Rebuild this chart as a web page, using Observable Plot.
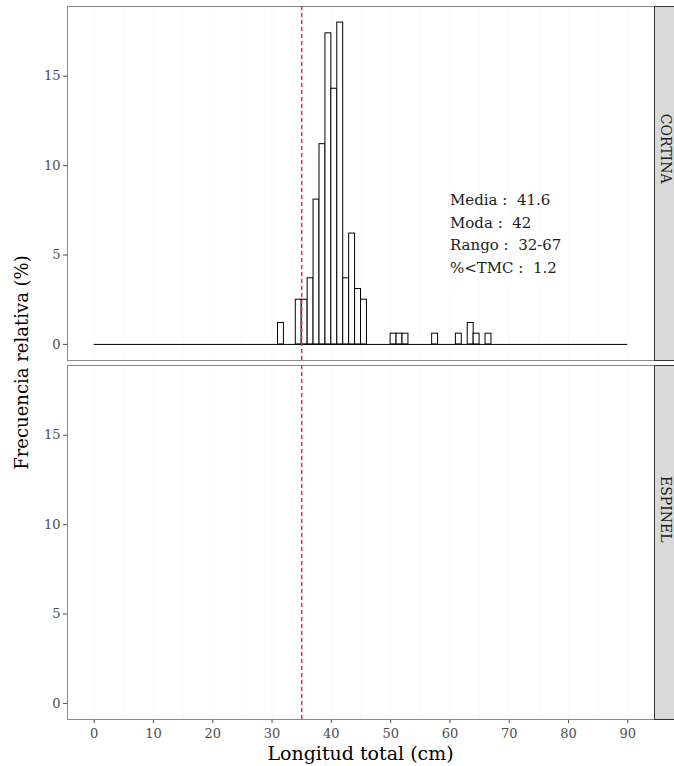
<!DOCTYPE html>
<html>
<head>
<meta charset="utf-8">
<script src="https://cdn.jsdelivr.net/npm/d3@7"></script>
<script src="https://cdn.jsdelivr.net/npm/@observablehq/plot@0.6"></script>
<style>
  body { margin: 0; background: #fff; }
  svg { display: block; }
</style>
</head>
<body>
<div id="chart"></div>
<script>
// ---- data ----
const gears = ["CORTINA", "ESPINEL"];
const lengthBins = [31, 34, 35, 36, 37, 38, 39, 40, 41, 42, 43, 44, 45, 50, 51, 52, 57, 61, 63, 64, 66];
const freqCortina = [1.2, 2.5, 2.5, 3.7, 8.1, 11.2, 17.4, 14.3, 18.0, 3.7, 6.2, 3.1, 2.5, 0.6, 0.6, 0.6, 0.6, 0.6, 1.2, 0.6, 0.6];
const binWidth = 1;
const histRange = [0, 90];
const tmc = 35;
const statLabels = ["Media :  41.6", "Moda :  42", "Rango :  32-67", "%<TMC :  1.2"];
const xTicks = [0, 10, 20, 30, 40, 50, 60, 70, 80, 90];
const yTicks = [0, 5, 10, 15];
const xTitle = "Longitud total (cm)";
const yTitle = "Frecuencia relativa (%)";

// ---- build ----
const rows = lengthBins.map((b, i) => ({gear: "CORTINA", x1: b, x2: b + binWidth, freq: freqCortina[i]}));
const W = 674, H = 766, mL = 67, mR = 20, mT = 6, mB = 47;
const font = "DejaVu Serif";

const plot = Plot.plot({
  width: W, height: H,
  marginLeft: mL, marginRight: mR, marginTop: mT, marginBottom: mB,
  style: {fontFamily: font, fontSize: "13px", color: "#4d4d4d", background: "#fff"},
  x: {domain: [-4.5, 94.5], ticks: xTicks, tickSize: 4, tickPadding: 5, label: null},
  y: {domain: [-0.9, 18.9], ticks: yTicks, tickSize: 4, tickPadding: 3, label: null},
  fy: {domain: gears, paddingInner: 0.014, paddingOuter: 0, axis: null, label: null},
  marks: [
    Plot.gridX(d3.range(0, 95, 5), {stroke: "#000", strokeOpacity: 0.03}),
    Plot.frame({stroke: "#8a8a8a"}),
    Plot.frame({fill: "#d9d9d9", stroke: "#333", insetLeft: W - mL - mR, insetRight: -30}),
    Plot.text(gears, {fy: d => d, text: d => d, frameAnchor: "right", dx: 11, rotate: 90, fill: "#1a1a1a", fontSize: 14}),
    Plot.ruleY([{gear: "CORTINA"}], {fy: "gear", y: () => 0, x1: () => histRange[0], x2: () => histRange[1], stroke: "black", strokeWidth: 1}),
    Plot.rectY(rows, {x1: "x1", x2: "x2", y: "freq", fy: "gear", fill: "white", stroke: "black", strokeWidth: 1}),
    Plot.ruleX([tmc], {stroke: "#f5234e", strokeDasharray: "4,3", strokeWidth: 1.5}),
    Plot.text([{gear: "CORTINA", label: statLabels.join("\n")}], {
      fy: "gear", x: () => 60, y: () => 6.3, text: "label",
      textAnchor: "start", lineAnchor: "middle", lineHeight: 1.5,
      fill: "#222", fontSize: 15
    })
  ]
});

const svg = d3.select(plot);
svg.append("text")
  .attr("x", mL + (W - mL - mR) / 2).attr("y", 760)
  .attr("text-anchor", "middle")
  .attr("font-family", font).attr("font-size", 19).attr("fill", "#000")
  .text(xTitle);
svg.append("text")
  .attr("transform", `translate(28, ${mT + (H - mT - mB) / 2}) rotate(-90)`)
  .attr("text-anchor", "middle")
  .attr("font-family", font).attr("font-size", 18).attr("fill", "#000")
  .text(yTitle);

document.getElementById("chart").appendChild(plot);
</script>
</body>
</html>
